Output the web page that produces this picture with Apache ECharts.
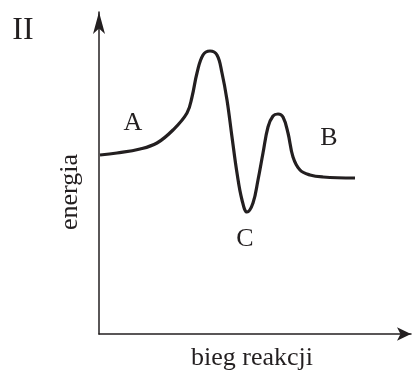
<!DOCTYPE html>
<html>
<head>
<meta charset="utf-8">
<script src="https://cdn.jsdelivr.net/npm/echarts@6/dist/echarts.min.js"></script>
<style>
  html, body { margin: 0; padding: 0; background: #fff; }
  #chart { width: 412px; height: 376px; }
</style>
</head>
<body>
<div id="chart"></div>
<script>
// 反应进程 (x) 与能量 (y)，数值读自原图
const progress = [1, 18, 41, 58, 74, 88, 93, 98, 104, 111, 118, 123, 128, 133, 138, 143, 148, 154, 159, 164, 169, 174, 179, 184, 189, 194, 201, 211, 224, 256]
const energy = [179, 181, 185, 191, 204, 221, 237, 261, 279, 283, 279, 261, 234, 197, 161, 134, 122, 131, 154, 181, 207, 218, 220, 217, 201, 177, 164, 159, 157, 156]

const chart = echarts.init(document.getElementById('chart'))

const font = 'Liberation Serif, Times New Roman, serif'
const ink = '#231f20'

const option = {
  animation: false,
  grid: { left: 99, right: 1, top: 12, bottom: 42 },
  xAxis: {
    type: 'value',
    min: 0,
    max: 312,
    axisLine: { lineStyle: { color: ink, width: 1.5 }, symbol: ['none', 'arrow'], symbolSize: [10, 14] },
    axisTick: { show: false },
    axisLabel: { show: false },
    splitLine: { show: false }
  },
  yAxis: {
    type: 'value',
    min: 0,
    max: 322,
    axisLine: { show: true, lineStyle: { color: ink, width: 1.5 }, symbol: ['none', 'arrow'], symbolSize: [9, 22] },
    axisTick: { show: false },
    axisLabel: { show: false },
    splitLine: { show: false }
  },
  series: [{
    type: 'line',
    data: progress.map((x, i) => [x, energy[i]]),
    smooth: 0.4,
    showSymbol: false,
    lineStyle: { color: ink, width: 3.2 }
  }],
  // 文字标注
  graphic: [
    { type: 'text', x: 23, y: 31, style: { text: 'II', font: '32px ' + font, fill: ink, align: 'center', verticalAlign: 'middle' } },
    { type: 'text', x: 133, y: 123, style: { text: 'A', font: '26px ' + font, fill: ink, align: 'center', verticalAlign: 'middle' } },
    { type: 'text', x: 329, y: 138, style: { text: 'B', font: '26px ' + font, fill: ink, align: 'center', verticalAlign: 'middle' } },
    { type: 'text', x: 245, y: 239, style: { text: 'C', font: '26px ' + font, fill: ink, align: 'center', verticalAlign: 'middle' } },
    { type: 'text', x: 70, y: 192, rotation: Math.PI / 2, style: { text: 'energia', font: '26px ' + font, fill: ink, align: 'center', verticalAlign: 'middle' } },
    { type: 'text', x: 252, y: 358, style: { text: 'bieg reakcji', font: '26px ' + font, fill: ink, align: 'center', verticalAlign: 'middle' } }
  ]
}

chart.setOption(option)
</script>
</body>
</html>
